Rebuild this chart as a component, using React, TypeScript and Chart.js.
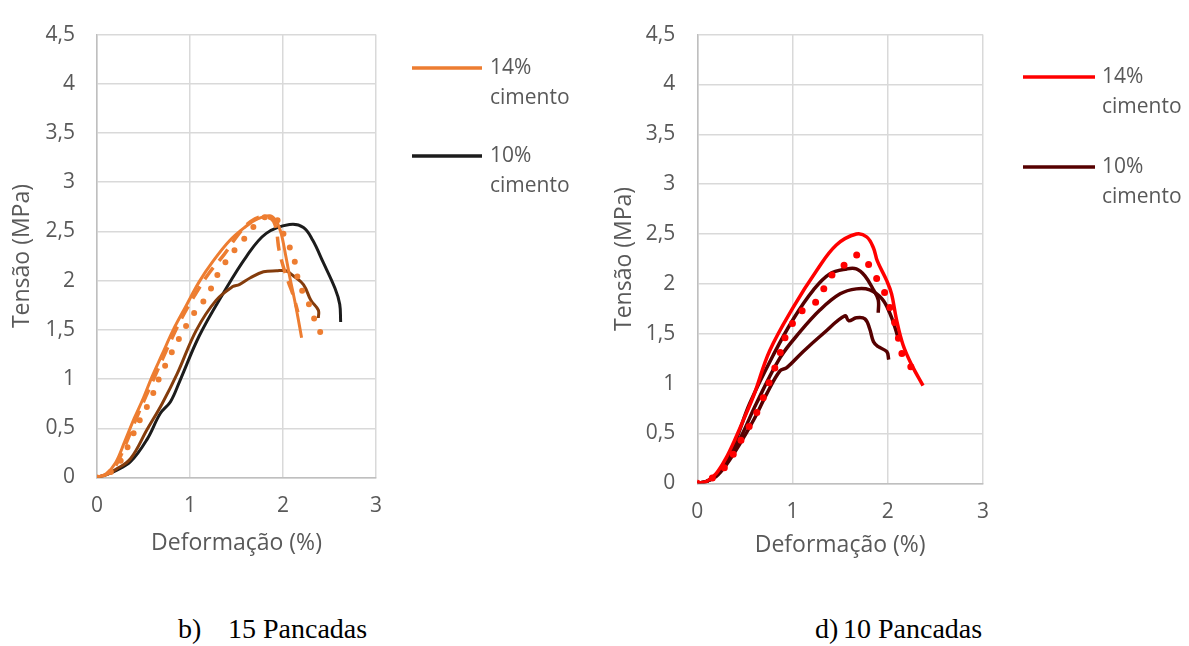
import React, { useEffect, useRef } from 'react';
import { Chart, registerables } from 'chart.js';

Chart.register(...registerables);

// ---------- Data: 15 Pancadas (left) ----------
const strain15_14a = [0, 0.1, 0.2, 0.3, 0.4, 0.5, 0.59, 0.7, 0.82, 0.95, 1.1, 1.25, 1.43, 1.6, 1.71, 1.86, 1.93, 1.98, 2.03, 2.07, 2.14, 2.2];
const stress15_14a = [0, 0.04, 0.15, 0.37, 0.6, 0.81, 1.02, 1.25, 1.5, 1.73, 1.99, 2.2, 2.41, 2.55, 2.62, 2.66, 2.6, 2.48, 2.25, 2.05, 1.73, 1.42];

const strain15_14b = [0, 0.1, 0.2, 0.3, 0.4, 0.5, 0.6, 0.75, 0.9, 1.05, 1.2, 1.37, 1.52, 1.65, 1.78, 1.9, 1.96, 2.01, 2.06, 2.11, 2.16];
const stress15_14b = [0, 0.03, 0.12, 0.32, 0.55, 0.77, 0.98, 1.3, 1.6, 1.85, 2.07, 2.27, 2.47, 2.6, 2.65, 2.6, 2.3, 2.12, 1.98, 1.85, 1.68];

const strain15_14c = [0, 0.1, 0.2, 0.29, 0.375, 0.48, 0.57, 0.674, 0.87, 1.03, 1.18, 1.32, 1.48, 1.57, 1.75, 1.88, 1.95, 2.02, 2.09, 2.13, 2.16, 2.21, 2.27, 2.32, 2.38, 2.44];
const stress15_14c = [0, 0.03, 0.1, 0.23, 0.41, 0.62, 0.78, 1.02, 1.39, 1.65, 1.84, 2.1, 2.31, 2.41, 2.61, 2.66, 2.6, 2.44, 2.3, 2.18, 2.02, 1.89, 1.78, 1.65, 1.52, 1.39];

const strain15_10a = [0, 0.1, 0.2, 0.36, 0.54, 0.7, 0.86, 1.07, 1.28, 1.46, 1.53, 1.65, 1.79, 1.93, 2.03, 2.11, 2.22, 2.3, 2.38, 2.38];
const stress15_10a = [0, 0.03, 0.08, 0.19, 0.49, 0.75, 1.05, 1.5, 1.8, 1.94, 1.96, 2.03, 2.09, 2.1, 2.1, 2.05, 1.96, 1.8, 1.7, 1.62];

const strain15_10b = [0, 0.1, 0.18, 0.36, 0.54, 0.68, 0.79, 0.89, 1.1, 1.35, 1.61, 1.82, 2.07, 2.22, 2.32, 2.43, 2.56, 2.61, 2.62];
const stress15_10b = [0, 0.03, 0.06, 0.16, 0.39, 0.65, 0.77, 0.98, 1.44, 1.86, 2.25, 2.48, 2.57, 2.54, 2.41, 2.19, 1.92, 1.76, 1.58];

// ---------- Data: 10 Pancadas (right) ----------
const strain10_14a = [0, 0.1, 0.2, 0.3, 0.4, 0.5, 0.6, 0.76, 1.01, 1.25, 1.46, 1.67, 1.78, 1.85, 1.89, 1.99, 2.04, 2.09, 2.16, 2.25, 2.37];
const stress10_14a = [0, 0.02, 0.1, 0.25, 0.45, 0.67, 0.9, 1.33, 1.77, 2.13, 2.39, 2.5, 2.47, 2.36, 2.23, 2.03, 1.9, 1.65, 1.39, 1.19, 0.98];

const strain10_14b = [0, 0.1, 0.2, 0.31, 0.47, 0.63, 0.75, 0.85, 0.94, 1.1, 1.27, 1.38, 1.57, 1.69, 1.81, 1.88, 1.95, 2.02, 2.09, 2.16, 2.25];
const stress10_14b = [0, 0.03, 0.08, 0.19, 0.45, 0.72, 1.0, 1.25, 1.5, 1.73, 1.84, 2.05, 2.21, 2.29, 2.18, 2.06, 1.95, 1.77, 1.55, 1.27, 1.16];

const strain10_10a = [0, 0.1, 0.2, 0.3, 0.4, 0.55, 0.8, 1.01, 1.22, 1.39, 1.57, 1.67, 1.76, 1.85, 1.9, 1.9];
const stress10_10a = [0, 0.02, 0.09, 0.23, 0.42, 0.8, 1.29, 1.65, 1.94, 2.1, 2.15, 2.15, 2.08, 1.94, 1.84, 1.71];

const strain10_10b = [0, 0.1, 0.2, 0.3, 0.45, 0.62, 0.87, 1.08, 1.29, 1.5, 1.67, 1.81, 1.94, 2.02, 2.08, 2.11];
const stress10_10b = [0, 0.02, 0.08, 0.2, 0.45, 0.8, 1.26, 1.52, 1.74, 1.9, 1.95, 1.94, 1.85, 1.71, 1.55, 1.45];

const strain10_10c = [0, 0.1, 0.2, 0.3, 0.45, 0.6, 0.73, 0.87, 0.94, 1.11, 1.32, 1.55, 1.59, 1.67, 1.76, 1.81, 1.85, 1.9, 1.99, 2.01];
const stress10_10c = [0, 0.02, 0.07, 0.18, 0.4, 0.65, 0.9, 1.13, 1.16, 1.32, 1.5, 1.68, 1.63, 1.66, 1.65, 1.55, 1.42, 1.37, 1.32, 1.24];

// ---------- Axis / labels ----------
const xTicksMax = 3;
const yTicksMax = 4.5;
const xTitle = 'Deformação (%)';
const yTitle = 'Tensão (MPa)';
const legendLabels = [['14%', 'cimento'], ['10%', 'cimento']];
const captionLeft = ['b)', '15 Pancadas'];
const captionRight = ['d)', '10 Pancadas'];

const FONT = "'Open Sans', sans-serif";
const GREY = '#595959';

type Style = 'solid' | 'dash' | 'dot';
interface Series { xs: number[]; ys: number[]; color: string; style: Style; width: number; gap?: number }
interface LegendCfg { x1: number; x2: number; textX: number; ys: number[]; colors: string[] }
interface Area { left: number; right: number; top: number; bottom: number }

const pts = (xs: number[], ys: number[]) => xs.map((x, i) => ({ x, y: ys[i] }));
const fmt = (v: any) => String(v).replace('.', ',');

function ChartPanel(props: {
  x: number; w: number; h: number; area: Area; series: Series[]; legend: LegendCfg;
  xTitlePad: number; yTitlePad: number; lineW: number;
}) {
  const ref = useRef<HTMLCanvasElement>(null);
  useEffect(() => {
    const { w, h, area, series, legend } = props;
    const legendPlugin = {
      id: 'customLegend',
      afterDraw(chart: any) {
        const ctx = chart.ctx;
        ctx.save();
        legend.ys.forEach((y, i) => {
          ctx.strokeStyle = legend.colors[i];
          ctx.lineWidth = props.lineW;
          ctx.lineCap = 'butt';
          ctx.setLineDash([]);
          ctx.beginPath();
          ctx.moveTo(legend.x1, y);
          ctx.lineTo(legend.x2, y);
          ctx.stroke();
          ctx.fillStyle = GREY;
          ctx.font = `21px ${FONT}`;
          ctx.textAlign = 'left';
          ctx.textBaseline = 'middle';
          legendLabels[i].forEach((t, j) => ctx.fillText(t, legend.textX, y + j * 30));
        });
        ctx.restore();
      },
    };
    const chart = new Chart(ref.current as HTMLCanvasElement, {
      type: 'line',
      data: {
        datasets: series.map((s) => ({
          data: pts(s.xs, s.ys),
          borderColor: s.color,
          backgroundColor: s.color,
          borderWidth: s.width,
          borderDash: s.style === 'dash' ? [14, 9] : s.style === 'dot' ? [0, s.gap || 14] : [],
          borderCapStyle: s.style === 'dot' ? 'round' : 'butt',
          pointRadius: 0,
          tension: 0.38,
          fill: false,
        })),
      },
      options: {
        animation: false,
        responsive: false,
        devicePixelRatio: 1,
        layout: { padding: { left: 0, top: area.top, right: w - area.right, bottom: 0 } },
        plugins: { legend: { display: false }, tooltip: { enabled: false } },
        scales: {
          x: {
            type: 'linear',
            min: 0,
            max: xTicksMax,
            ticks: { stepSize: 1, color: GREY, font: { family: FONT, size: 21 }, padding: 16, callback: fmt },
            grid: { color: '#d9d9d9', lineWidth: 1.5, drawTicks: false },
            border: { color: '#bfbfbf', width: 1.5 },
            title: { display: true, text: xTitle, color: GREY, font: { family: FONT, size: 23 }, padding: { top: 0, bottom: props.xTitlePad } },
            afterFit: (s: any) => { s.height = h - area.bottom; },
          },
          y: {
            type: 'linear',
            min: 0,
            max: yTicksMax,
            ticks: { stepSize: 0.5, color: GREY, font: { family: FONT, size: 21 }, padding: 22, callback: fmt },
            grid: { color: '#d9d9d9', lineWidth: 1.5, drawTicks: false },
            border: { color: '#bfbfbf', width: 1.5 },
            title: { display: true, text: yTitle, color: GREY, font: { family: FONT, size: 23 }, padding: { top: props.yTitlePad, bottom: 0 } },
            afterFit: (s: any) => { s.width = area.left; },
          },
        },
      } as any,
      plugins: [legendPlugin],
    });
    return () => chart.destroy();
  }, []);
  return (
    <canvas
      ref={ref}
      width={props.w}
      height={props.h}
      style={{ position: 'absolute', left: props.x, top: 0, width: props.w, height: props.h }}
    />
  );
}

const ORANGE = '#ED7D31';
const BROWN = '#843C0C';
const BLACK = '#1C1C1C';
const RED = '#FF0000';
const MAROON = '#560000';

const leftSeries: Series[] = [
  { xs: strain15_14a, ys: stress15_14a, color: ORANGE, style: 'solid', width: 3 },
  { xs: strain15_14b, ys: stress15_14b, color: ORANGE, style: 'dash', width: 3.5 },
  { xs: strain15_14c, ys: stress15_14c, color: ORANGE, style: 'dot', width: 6, gap: 15 },
  { xs: strain15_10a, ys: stress15_10a, color: BROWN, style: 'solid', width: 3 },
  { xs: strain15_10b, ys: stress15_10b, color: BLACK, style: 'solid', width: 3 },
];

const rightSeries: Series[] = [
  { xs: strain10_14a, ys: stress10_14a, color: RED, style: 'solid', width: 3.5 },
  { xs: strain10_14b, ys: stress10_14b, color: RED, style: 'dot', width: 7, gap: 16 },
  { xs: strain10_10a, ys: stress10_10a, color: MAROON, style: 'solid', width: 3.5 },
  { xs: strain10_10b, ys: stress10_10b, color: MAROON, style: 'solid', width: 3.5 },
  { xs: strain10_10c, ys: stress10_10c, color: MAROON, style: 'solid', width: 3.5 },
];

const capStyle: React.CSSProperties = {
  position: 'absolute',
  fontFamily: "'Liberation Serif', 'Times New Roman', serif",
  fontSize: 28,
  lineHeight: '28px',
  color: '#000',
  whiteSpace: 'nowrap',
};

export default function App() {
  return (
    <div style={{ position: 'absolute', left: 0, top: 0, width: 1189, height: 646, background: '#fff', overflow: 'hidden' }}>
      <ChartPanel
        x={0}
        w={600}
        h={570}
        area={{ left: 97, right: 376, top: 16.5, bottom: 477.5 }}
        series={leftSeries}
        legend={{ x1: 412, x2: 482, textX: 490, ys: [68, 156], colors: [ORANGE, BLACK] }}
        xTitlePad={13}
        yTitlePad={9}
        lineW={3.5}
      />
      <ChartPanel
        x={600}
        w={589}
        h={570}
        area={{ left: 97.3, right: 383, top: 18.3, bottom: 483.3 }}
        series={rightSeries}
        legend={{ x1: 423, x2: 495, textX: 502, ys: [77, 167], colors: [RED, MAROON] }}
        xTitlePad={11}
        yTitlePad={11}
        lineW={3.5}
      />
      <span style={{ ...capStyle, left: 178, top: 615 }}>{captionLeft[0]}</span>
      <span style={{ ...capStyle, left: 228, top: 615 }}>{captionLeft[1]}</span>
      <span style={{ ...capStyle, left: 815, top: 615 }}>{captionRight[0]}</span>
      <span style={{ ...capStyle, left: 843, top: 615 }}>{captionRight[1]}</span>
    </div>
  );
}
